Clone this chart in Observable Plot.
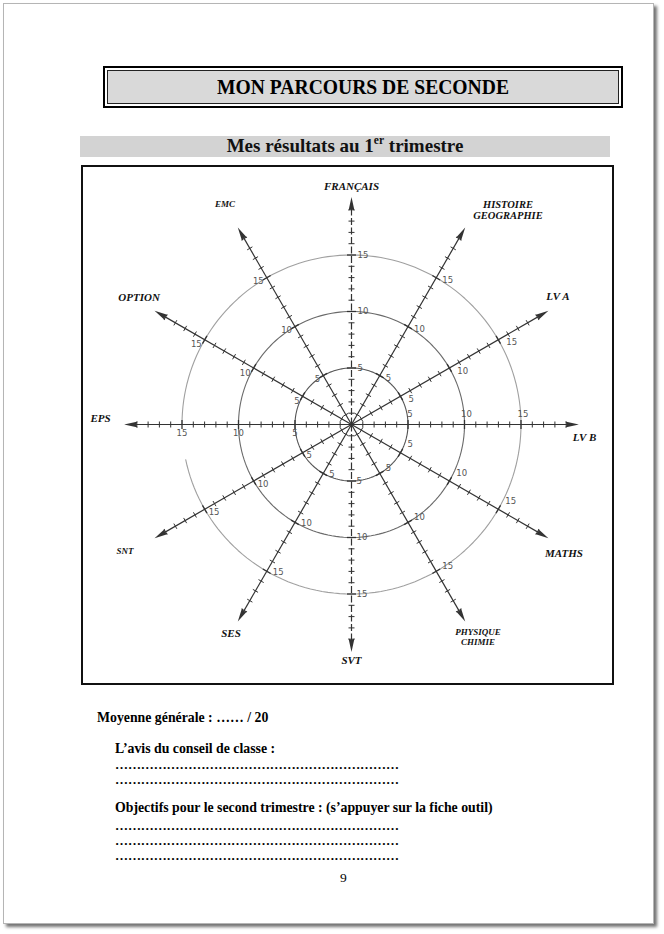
<!DOCTYPE html>
<html lang="fr">
<head>
<meta charset="utf-8">
<script src="https://cdn.jsdelivr.net/npm/d3@7"></script>
<script src="https://cdn.jsdelivr.net/npm/@observablehq/plot@0.6"></script>
<style>
  html, body { margin: 0; padding: 0; background: #fff; }
  body { width: 664px; height: 934px; position: relative; overflow: hidden; font-family: "Liberation Serif", serif; }
  .page { position: absolute; left: 3px; top: 3px; width: 649px; height: 919px; border: 1px solid #b5b5b5; background: #fff;
          box-shadow: 3px 3px 3px rgba(0,0,0,0.55); }
  .titlebox { position: absolute; left: 103px; top: 66px; width: 512px; height: 34px; border: 2px solid #000; padding: 2px; background: #fff; }
  .titlebox .inner { width: 100%; height: 100%; box-sizing: border-box; border: 1px solid #222; background: #d9d9d9;
          display: flex; align-items: center; justify-content: center; font-weight: bold; font-size: 19.6px; color: #000; }
  .titlebox .inner span { display: inline-block; transform: scaleY(1.12); }
  .subbar { position: absolute; left: 80px; top: 136px; width: 530px; height: 21px; background: #d3d3d3;
          display: flex; align-items: center; justify-content: center; font-weight: bold; font-size: 19px; color: #111; }
  .subbar sup { font-size: 11.5px; position: relative; top: -1px; }
  .chart { position: absolute; left: 81px; top: 165px; border: 2px solid #111; width: 529px; height: 516px; background: #fff; }
  .chart svg { display: block; }
  .t { position: absolute; font-weight: bold; font-size: 13.8px; color: #000; white-space: nowrap; line-height: 15px; }
  .dots { position: absolute; font-weight: bold; font-size: 13px; color: #000; white-space: nowrap; line-height: 15px; letter-spacing: -0.1px; }
  .num { position: absolute; left: 340px; top: 870px; font-size: 13.5px; color: #000; }
</style>
</head>
<body>
<div class="page"></div>
<div class="titlebox"><div class="inner"><span>MON PARCOURS DE SECONDE</span></div></div>
<div class="subbar"><span>Mes résultats au 1<sup>er</sup> trimestre</span></div>
<div class="chart" id="chart"></div>

<div class="t" style="left:97px;top:710px;">Moyenne générale : …… / 20</div>
<div class="t" style="left:115px;top:741px;">L’avis du conseil de classe :</div>
<div class="dots" style="left:115px;top:757px;" id="d1"></div>
<div class="dots" style="left:115px;top:772px;" id="d2"></div>
<div class="t" style="left:115px;top:800px;">Objectifs pour le second trimestre : (s’appuyer sur la fiche outil)</div>
<div class="dots" style="left:115px;top:818px;" id="d3"></div>
<div class="dots" style="left:115px;top:833px;" id="d4"></div>
<div class="dots" style="left:115px;top:848px;" id="d5"></div>
<div class="num">9</div>

<script>
// ---------- data ----------
const subjects = ["FRANÇAIS", "HISTOIRE\nGEOGRAPHIE", "LV A", "LV B", "MATHS", "PHYSIQUE\nCHIMIE",
                  "SVT", "SES", "SNT", "EPS", "OPTION", "EMC"];
const subjectAngles = [90, 60, 30, 0, -30, -60, -90, -120, -150, 180, 150, 120]; // degrees
const gridValues = [5, 10, 15];
const unitTicks = [1, 2, 3, 4, 5, 6, 7, 8, 9, 10, 11, 12, 13, 14, 15, 16, 17, 18, 19];
const axisMax = 20;

// ---------- layout (pixel tweaks, kept apart from data) ----------
const W = 529, H = 516, K = 11.3, CX = 268, CY = 257;
const labelRadius = 21.5;
// per subject: [dx, dy, fontSize]
const labelLayout = [
  [0, 5, 11], [35, -4, 10.5], [-4, -7, 11], [-10, 13, 11], [2, 7, 11], [5, 2, 9],
  [0, -7, 11], [1, -2, 11], [-16, 5, 9], [-8, -6, 11], [-2, -6, 11], [-5, -10, 9]
];
// per subject tick-label offset: [dx, dy, anchor]
const tickLabelLayout = [
  [6, 0, "start"], [6, 3, "start"], [8, 3, "start"], [2, -10, "middle"], [7, -8, "start"], [6, -5, "start"],
  [5, 0, "start"], [6, 1, "start"], [4, 3, "start"], [0, 9, "middle"], [-3, 5, "end"], [-3, 4, "end"]
];

const rad = a => a * Math.PI / 180;
const px = d => d / K; // pixel offset -> data units
const axes = subjects.map((s, i) => ({ s, i, a: rad(subjectAngles[i]), deg: subjectAngles[i] }));

// tick marks
const ticks = [];
for (const ax of axes) for (const t of unitTicks) {
  const h = t % 5 === 0 ? px(4.5) : px(3);
  const c = Math.cos(ax.a), sn = Math.sin(ax.a);
  ticks.push({ x1: t * c + h * sn, y1: t * sn - h * c, x2: t * c - h * sn, y2: t * sn + h * c, major: t % 5 === 0 });
}
// tick labels
const tickLabels = [];
for (const ax of axes) for (const v of gridValues) {
  const [dx, dy, anchor] = tickLabelLayout[ax.i];
  tickLabels.push({ x: v * Math.cos(ax.a) + px(dx), y: v * Math.sin(ax.a) - px(dy), text: String(v), anchor });
}
// grid circles (15 has a small gap on the left as in the drawing)
const circlePts = [];
for (const r of gridValues) {
  let seg = 0;
  for (let deg = 0; deg <= 360; deg += 2) {
    if (r === 15 && deg > 180 && deg < 191) { seg++; continue; }
    circlePts.push({ x: r * Math.cos(rad(deg)), y: r * Math.sin(rad(deg)), key: r + "-" + seg, r });
  }
}
const arrowSymbol = {
  draw(ctx, size) {
    const r = Math.sqrt(size / Math.PI);
    ctx.moveTo(0, -2 * r);
    ctx.lineTo(0.55 * r, 0.5 * r);
    ctx.lineTo(0, 0.15 * r);
    ctx.lineTo(-0.55 * r, 0.5 * r);
    ctx.closePath();
  }
};

const chart = Plot.plot({
  width: W, height: H, margin: 0,
  x: { domain: [-CX / K, (W - CX) / K], axis: null },
  y: { domain: [-(H - CY) / K, CY / K], axis: null },
  style: { background: "#fff", overflow: "visible" },
  marks: [
    Plot.line(circlePts.filter(d => d.r === 15), { x: "x", y: "y", z: "key", stroke: "#a0a0a0", strokeWidth: 1.1 }),
    Plot.line(circlePts.filter(d => d.r === 10), { x: "x", y: "y", z: "key", stroke: "#6a6a6a", strokeWidth: 1.1 }),
    Plot.line(circlePts.filter(d => d.r === 5), { x: "x", y: "y", z: "key", stroke: "#555", strokeWidth: 1.1 }),
    Plot.link(axes.filter(d => d.i !== 0 && d.i !== 6), { x1: d => 0, y1: d => 0, x2: d => (axisMax - 0.6) * Math.cos(d.a), y2: d => (axisMax - 0.6) * Math.sin(d.a), stroke: "#333", strokeWidth: 1.2 }),
    Plot.link(axes.filter(d => d.i === 0 || d.i === 6), { x1: d => 0, y1: d => 0, x2: d => (axisMax - 0.6) * Math.cos(d.a), y2: d => (axisMax - 0.6) * Math.sin(d.a), stroke: "#333", strokeWidth: 1.2, strokeDasharray: "7,2.5" }),
    Plot.link(ticks, { x1: "x1", y1: "y1", x2: "x2", y2: "y2", stroke: "#333", strokeWidth: d => d.major ? 1.3 : 1 }),
    Plot.dot(axes, { x: d => (axisMax - 0.85) * Math.cos(d.a), y: d => (axisMax - 0.85) * Math.sin(d.a), symbol: arrowSymbol, r: 5.5, rotate: d => 90 - d.deg, fill: "#333", stroke: "none" }),
    ...["start", "middle", "end"].map(anc => Plot.text(tickLabels.filter(d => d.anchor === anc), {
      x: "x", y: "y", text: "text", textAnchor: anc, fontSize: 8.5, fill: "#555", fontFamily: "DejaVu Sans, sans-serif"
    })),
    Plot.text(axes, {
      x: d => labelRadius * Math.cos(d.a) + px(labelLayout[d.i][0]),
      y: d => labelRadius * Math.sin(d.a) - px(labelLayout[d.i][1]),
      text: "s", fontSize: d => labelLayout[d.i][2], fontFamily: "Liberation Serif, serif",
      fontStyle: "italic", fontWeight: "bold", fill: "#111", lineHeight: 1.05
    })
  ]
});
document.getElementById("chart").appendChild(chart);

for (const id of ["d1", "d2", "d3", "d4", "d5"]) document.getElementById(id).textContent = "…".repeat(22);
</script>
</body>
</html>
